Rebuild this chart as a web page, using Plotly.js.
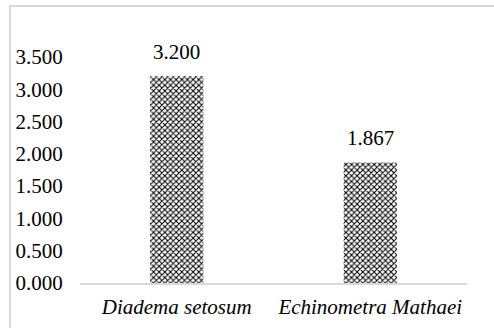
<!DOCTYPE html>
<html>
<head>
<meta charset="utf-8">
<script src="https://cdn.plot.ly/plotly-3.0.1.min.js"></script>
<style>
  html, body { margin: 0; padding: 0; background: #fff; }
  #wrap { position: relative; width: 494px; height: 328px; overflow: hidden; }
  #chart { position: absolute; left: 0; top: 0; width: 494px; height: 328px; }
  #frame { position: absolute; left: 9px; top: 5px; width: 600px; height: 400px;
           border-top: 2px solid #d9d9d9; border-left: 2px solid #d9d9d9; pointer-events: none; }
</style>
</head>
<body>
<div id="wrap">
  <div id="chart"></div>
  <div id="frame"></div>
</div>
<script>
const categories = ["Diadema setosum", "Echinometra Mathaei"];
const values = [3.200, 1.867];
const valueLabels = ["3.200", "1.867"];
const yTickVals = [0, 0.5, 1, 1.5, 2, 2.5, 3, 3.5];
const yTickText = ["0.000", "0.500", "1.000", "1.500", "2.000", "2.500", "3.000", "3.500"];

const serif = "'Liberation Serif', 'Times New Roman', 'DejaVu Serif', serif";

const trace = {
  type: "bar",
  x: categories,
  y: values,
  marker: {
    color: "#ffffff",
    line: { width: 0 },
    pattern: { shape: "x", fgcolor: "#000000", bgcolor: "#ffffff", size: 4, solidity: 0.45 }
  },
  hoverinfo: "none"
};

const annotations = categories.map((c, i) => ({
  x: c, y: values[i], xref: "x", yref: "y",
  text: valueLabels[i], showarrow: false,
  yanchor: "bottom", yshift: 10,
  font: { family: serif, size: 21, color: "#000" }
}));

const layout = {
  width: 494, height: 328,
  margin: { l: 80, r: 27, t: 57, b: 45, pad: 0 },
  paper_bgcolor: "rgba(0,0,0,0)",
  plot_bgcolor: "rgba(0,0,0,0)",
  font: { family: serif, size: 21, color: "#000" },
  bargap: 0.725,
  showlegend: false,
  xaxis: {
    type: "category",
    showgrid: false, zeroline: false,
    showline: true, linecolor: "#d9d9d9", linewidth: 1.5,
    ticks: "outside", ticklen: 4, tickcolor: "rgba(0,0,0,0)",
    tickfont: { family: serif, size: 21, color: "#000", style: "italic" }
  },
  yaxis: {
    range: [0, 3.5],
    tickvals: yTickVals, ticktext: yTickText,
    showgrid: false, zeroline: false, showline: false,
    ticks: "outside", ticklen: 12, tickcolor: "rgba(0,0,0,0)",
    tickfont: { family: serif, size: 21, color: "#000" }
  },
  annotations: annotations
};

Plotly.newPlot("chart", [trace], layout, { staticPlot: true, displayModeBar: false });
</script>
</body>
</html>
